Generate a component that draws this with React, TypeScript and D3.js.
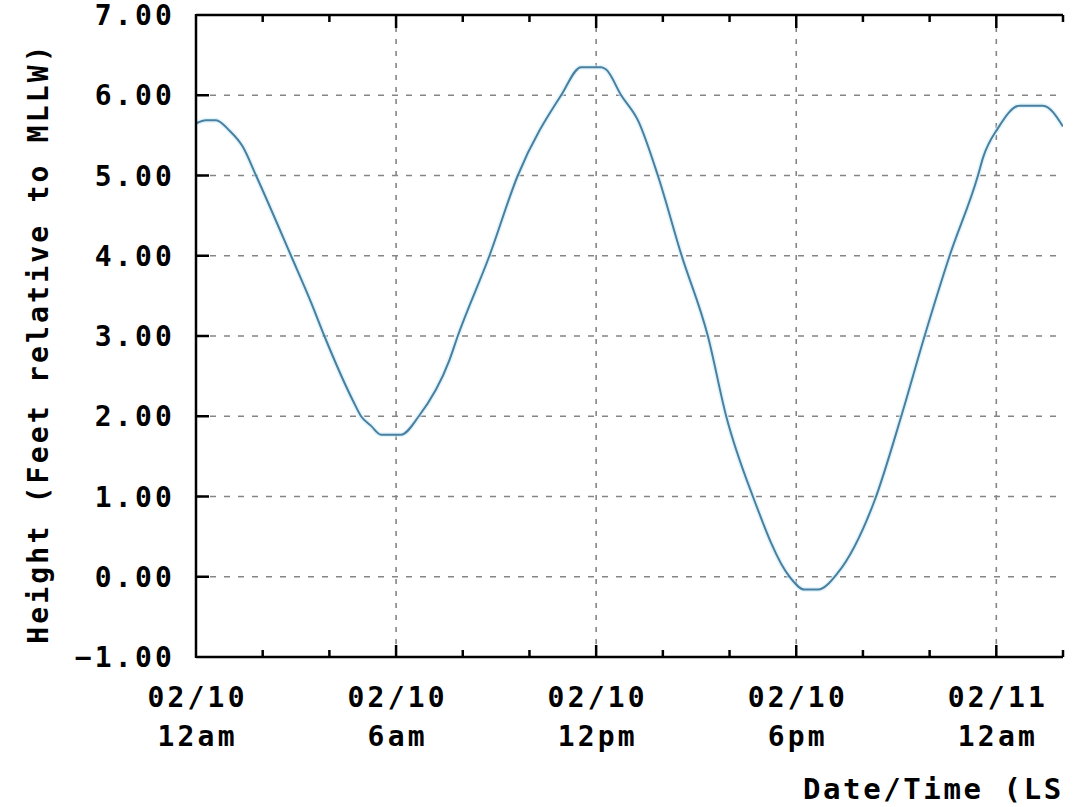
import React from 'react';
import * as d3 from 'd3';

// hours after 02/10 12am
const HOURS = [0, 0.3, 0.6, 1.0, 1.4, 1.8, 2.85, 3.45, 3.85, 4.7, 4.95, 5.25, 5.55, 6.15, 6.68, 7.6, 7.85, 8.8, 9.65, 10.95, 11.55, 12.15, 12.3, 12.75, 13.25, 13.85, 14.55, 15.35, 15.9, 16.7, 17.8, 18.25, 18.65, 19.25, 20.35, 21.15, 21.85, 22.6, 23.45, 23.6, 24.05, 24.7, 25.4, 26.0];
const HEIGHTS = [5.65, 5.69, 5.69, 5.56, 5.36, 5.0, 4.0, 3.42, 3.0, 2.2, 2.0, 1.88, 1.77, 1.77, 2.0, 2.7, 3.0, 4.0, 5.0, 6.0, 6.35, 6.35, 6.32, 6.0, 5.69, 5.0, 4.02, 3.0, 2.0, 1.0, 0.0, -0.16, -0.16, 0.05, 0.95, 2.0, 3.0, 4.0, 5.0, 5.22, 5.59, 5.87, 5.87, 5.61];

const Y_TICKS = [-1, 0, 1, 2, 3, 4, 5, 6, 7];
const Y_GRID = [0, 1, 2, 3, 4, 5, 6];
const X_MAJOR_HOURS = [0, 6, 12, 18, 24];
const X_MAJOR_DATES = ['02/10', '02/10', '02/10', '02/10', '02/11'];
const X_MAJOR_TIMES = ['12am', '6am', '12pm', '6pm', '12am'];
const X_MINOR_HOURS = [2, 4, 8, 10, 14, 16, 20, 22, 26];
const X_DOMAIN = [0, 26];
const Y_DOMAIN = [-1, 7];
const Y_TITLE = 'Height (Feet relative to MLLW)';
const X_TITLE = 'Date/Time (LS';

const W = 1082;
const H = 807;
const L = 196, R = 1063, T = 15, B = 657;

const font = {
  fontFamily: '"DejaVu Sans Mono", "Liberation Mono", monospace',
  fontWeight: 700 as const,
  fontSize: 28,
  letterSpacing: 3.2,
};

export default function App() {
  const x = d3.scaleLinear().domain(X_DOMAIN).range([L, R]);
  const y = d3.scaleLinear().domain(Y_DOMAIN).range([B, T]);
  const pts: [number, number][] = HOURS.map((h, i) => [h, HEIGHTS[i]]);
  const line = d3
    .line<[number, number]>()
    .x((d) => x(d[0]))
    .y((d) => y(d[1]))
    .curve(d3.curveMonotoneX);

  return (
    <svg width={W} height={H} style={{ position: 'absolute', left: 0, top: 0, background: '#fff' }}>
      <defs>
        <clipPath id="plotclip">
          <rect x={L} y={T} width={R - L} height={B - T} />
        </clipPath>
      </defs>
      <rect x={0} y={0} width={W} height={H} fill="#fff" />
      <g>
        {/* grid */}
        {Y_GRID.map((v) => (
          <line key={'gy' + v} x1={L} x2={R} y1={y(v)} y2={y(v)} stroke="#858585" strokeWidth={1.6} strokeDasharray="6,8" />
        ))}
        {X_MAJOR_HOURS.filter((h) => h > 0).map((h) => (
          <line key={'gx' + h} x1={x(h)} x2={x(h)} y1={T} y2={B} stroke="#858585" strokeWidth={1.6} strokeDasharray="5,7" />
        ))}

        {/* data line */}
        <g clipPath="url(#plotclip)">
          <path d={line(pts) || ''} fill="none" stroke="#cfeefa" strokeWidth={5} opacity={0.6} />
          <path d={line(pts) || ''} fill="none" stroke="#4a7f9f" strokeWidth={2} />
        </g>

        {/* axes */}
        <line x1={L} x2={L} y1={T - 1} y2={B + 1} stroke="#000" strokeWidth={2.5} />
        <line x1={L} x2={R} y1={B} y2={B} stroke="#000" strokeWidth={2.5} />
        <line x1={L} x2={R} y1={T} y2={T} stroke="#000" strokeWidth={2.5} />

        {/* y ticks */}
        {Y_TICKS.map((v) => (
          <g key={'yt' + v}>
            {v > -1 && v < 7 && <line x1={L} x2={L + 13} y1={y(v)} y2={y(v)} stroke="#000" strokeWidth={2.5} />}
            <text x={175} y={y(v) + 10} textAnchor="end" {...font} fill="#000">
              {d3.format('.2f')(v)}
            </text>
          </g>
        ))}

        {/* x ticks */}
        {X_MAJOR_HOURS.map((h, i) => (
          <g key={'xt' + h}>
            {h > 0 && <line x1={x(h)} x2={x(h)} y1={B} y2={B - 12} stroke="#000" strokeWidth={2.5} />}
            {h > 0 && <line x1={x(h)} x2={x(h)} y1={T} y2={T + 13} stroke="#000" strokeWidth={2.5} />}
            <text x={x(h) + 1.6} y={707} textAnchor="middle" {...font} fill="#000">
              {X_MAJOR_DATES[i]}
            </text>
            <text x={x(h) + 1.6} y={746} textAnchor="middle" {...font} fill="#000">
              {X_MAJOR_TIMES[i]}
            </text>
          </g>
        ))}
        {X_MINOR_HOURS.map((h) => (
          <g key={'xm' + h}>
            <line x1={x(h)} x2={x(h)} y1={B} y2={B - 7} stroke="#000" strokeWidth={2.5} />
            <line x1={x(h)} x2={x(h)} y1={T} y2={T + 7} stroke="#000" strokeWidth={2.5} />
          </g>
        ))}

        {/* titles */}
        <text transform="translate(48,343) rotate(-90)" textAnchor="middle" {...font} fill="#000">
          {Y_TITLE}
        </text>
        <text x={803} y={799} textAnchor="start" {...font} fontSize={29} letterSpacing={2.6} fill="#000">
          {X_TITLE}
        </text>
      </g>
    </svg>
  );
}
